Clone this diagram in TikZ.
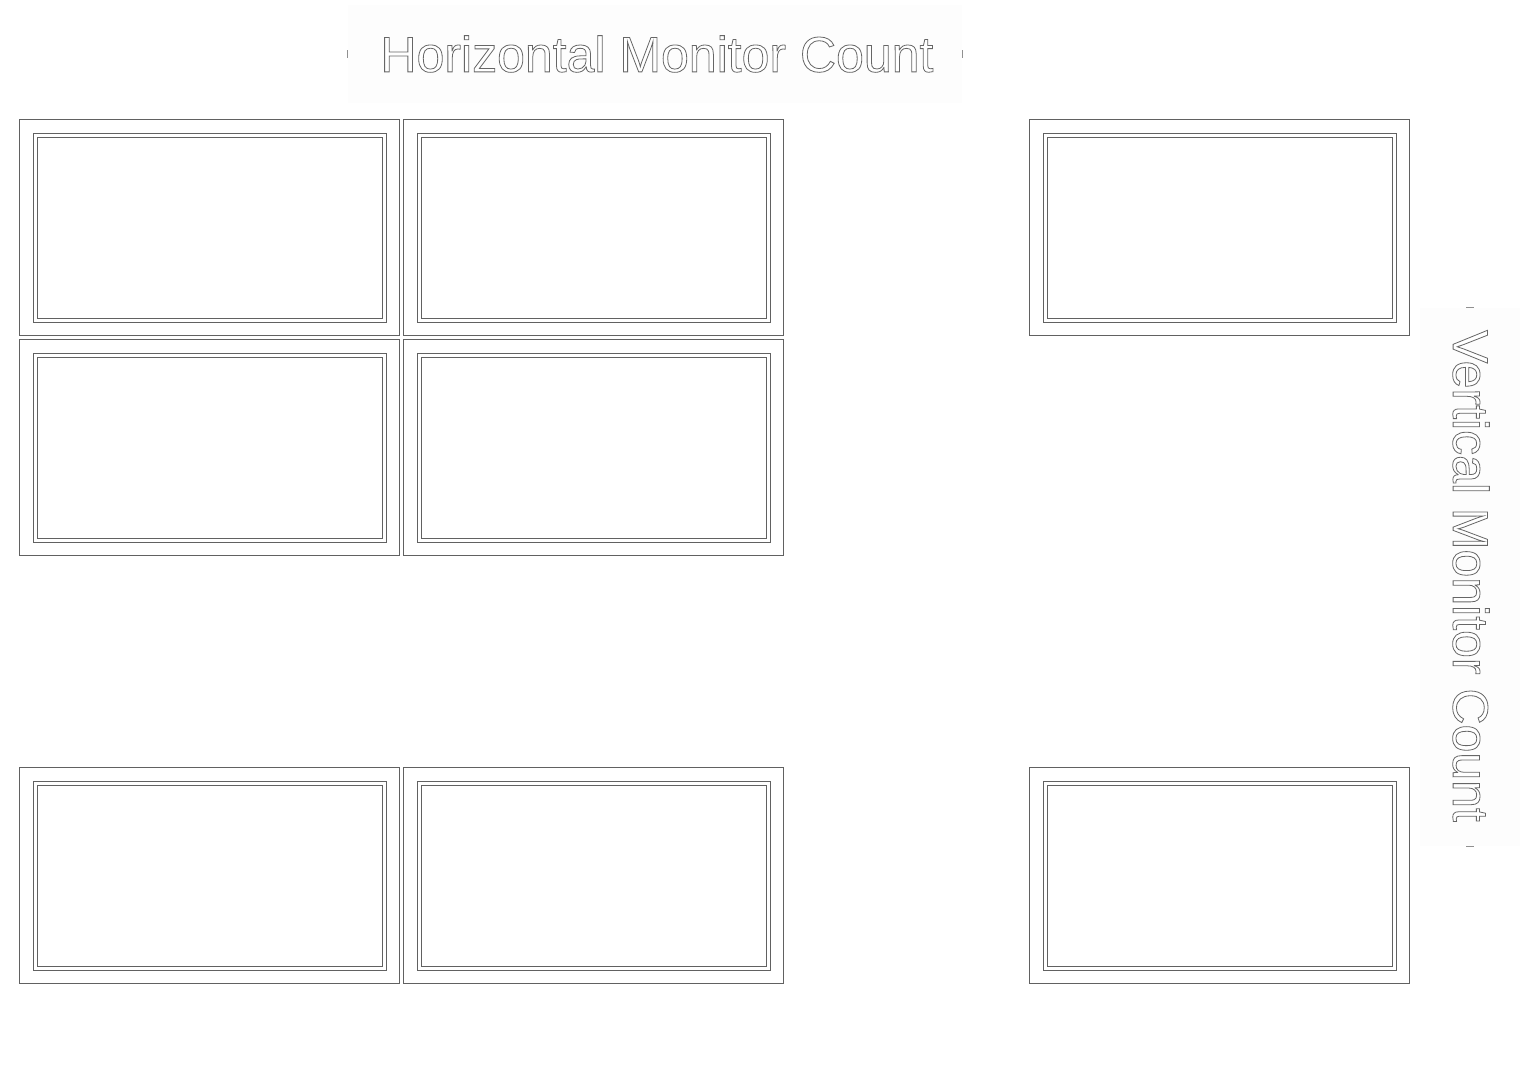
\documentclass[tikz,border=0pt]{standalone}
\usepackage{fontspec}
\setmainfont{Liberation Sans}
\newcommand\outlinetext[1]{\special{pdf:literal direct 2 Tr 0.8 w 0.4 G}#1\special{pdf:literal direct 0 Tr}}
\definecolor{mline}{gray}{0.38}
\definecolor{labelbg}{gray}{0.993}
\tikzset{
  monitor/.style={draw=mline, line width=1pt, fill=white},
  screenline/.style={draw=mline, line width=0.9pt},
  labelbox/.style={fill=labelbg, draw=none},
  tick/.style={draw=mline!70, line width=1pt},
  bigtext/.style={text=white, font=\fontsize{50}{56}\selectfont, inner sep=0pt}
}
\newcommand\monitorat[3]{% name, x, y (top-left)
  \node[monitor, minimum width=380pt, minimum height=216pt, anchor=north west, inner sep=0pt] (#1) at (#2,#3) {};
  \draw[screenline] ([xshift=14pt,yshift=-14pt]#1.north west) rectangle ([xshift=-14pt,yshift=14pt]#1.south east);
  \draw[screenline] ([xshift=18pt,yshift=-18pt]#1.north west) rectangle ([xshift=-18pt,yshift=18pt]#1.south east);
}
\begin{document}
\begin{tikzpicture}[x=1pt,y=-1pt]
\useasboundingbox (0,0) rectangle (1525,1083);
\fill[white] (0,0) rectangle (1525,1083);
% label backgrounds
\node[labelbox, minimum width=614pt, minimum height=98pt, inner sep=0pt] (hbox) at (655,54) {};
\node[labelbox, minimum width=100pt, minimum height=538pt, inner sep=0pt] (vbox) at (1470,577) {};
\draw[tick] ([yshift=-4pt]hbox.west) -- ([yshift=4pt]hbox.west);
\draw[tick] ([yshift=-4pt]hbox.east) -- ([yshift=4pt]hbox.east);
\draw[tick] ([xshift=-4pt]vbox.north) -- ([xshift=4pt]vbox.north);
\draw[tick] ([xshift=-4pt]vbox.south) -- ([xshift=4pt]vbox.south);
% labels
\node[bigtext] (htitle) at (657,54) {\outlinetext{Horizontal Monitor Count}};
\node[bigtext, rotate=-90] (vtitle) at (1471,576) {\outlinetext{Vertical Monitor Count}};
% monitors
\monitorat{m11}{19}{119}
\monitorat{m12}{403}{119}
\monitorat{m21}{19}{339}
\monitorat{m22}{403}{339}
\monitorat{m1n}{1029}{119}
\monitorat{mn1}{19}{767}
\monitorat{mn2}{403}{767}
\monitorat{mnn}{1029}{767}
\end{tikzpicture}
\end{document}
